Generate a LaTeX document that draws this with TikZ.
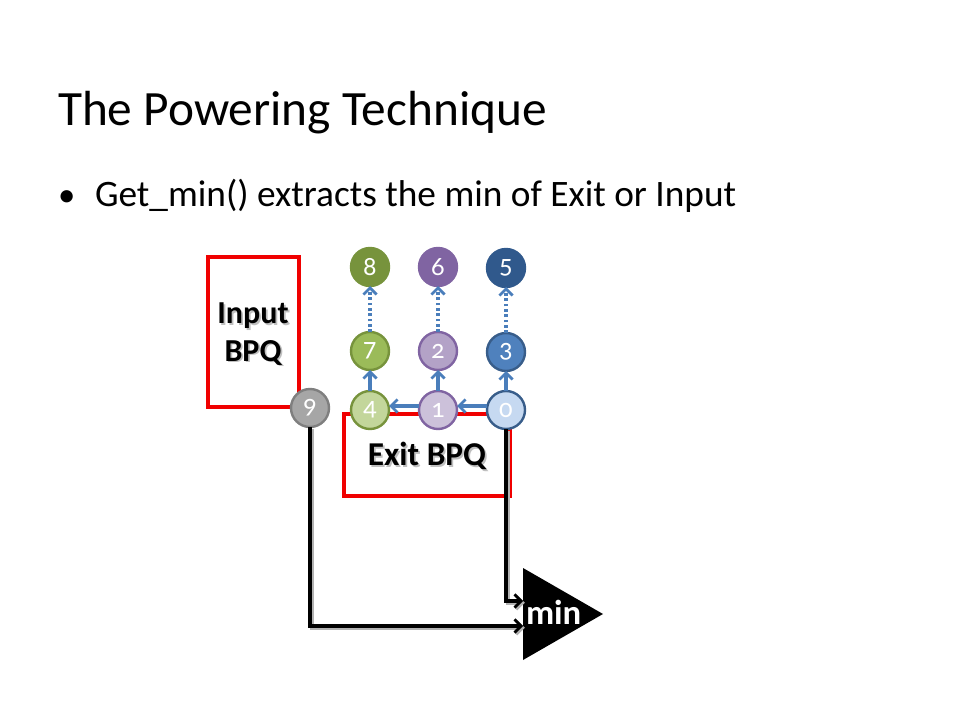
\documentclass[tikz,border=0pt]{standalone}
\usepackage{fontspec}
\setmainfont{Carlito}
\newfontfamily\digitfont[Numbers=OldStyle]{Carlito}
\usetikzlibrary{arrows.meta}
\definecolor{dgreen}{HTML}{77933C}
\definecolor{mgreen}{HTML}{9BBB59}
\definecolor{lgreen}{HTML}{C3D69B}
\definecolor{dpurple}{HTML}{8064A2}
\definecolor{mpurple}{HTML}{B3A2C7}
\definecolor{lpurple}{HTML}{CCC1DA}
\definecolor{dblue}{HTML}{30598C}
\definecolor{mblue}{HTML}{4F81BD}
\definecolor{lblue}{HTML}{C6D9F1}
\definecolor{bordblue}{HTML}{385D8A}
\definecolor{arrblue}{HTML}{4A7EBB}
\definecolor{gfill}{HTML}{A6A6A6}
\definecolor{gbord}{HTML}{7F7F7F}
\definecolor{boxred}{HTML}{F00000}
\newcommand{\shtext}[1]{\leavevmode\rlap{\kern1.3pt\raisebox{-1.3pt}{\textcolor{black!25}{#1}}}#1}
\tikzset{
  every node/.style={inner sep=0pt, outer sep=0pt},
  num/.style={circle, minimum size=28.5pt, line width=1.8pt, text=white, font=\digitfont\fontsize{20}{20}\selectfont},
  redbox/.style={draw=boxred, line width=2.6pt},
  solidarr/.style={draw=arrblue, line width=2.3pt, -{Straight Barb[length=5pt,width=10pt,line width=2pt]}},
  dotarr/.style={draw=arrblue, line width=2.3pt, dash pattern=on 2pt off 2pt, -{Straight Barb[length=5pt,width=10pt,line width=2pt]}},
  blackline/.style={draw=black, line width=3pt, line join=miter,
     preaction={draw=black!30, line width=3pt, transform canvas={shift={(1.4pt,-1.4pt)}}}},
  blackarr/.style={blackline, -{Straight Barb[length=5pt,width=10pt,line width=2pt]}},
  lbl/.style={font=\bfseries\fontsize{24}{28}\selectfont, align=center}
}
\begin{document}
\begin{tikzpicture}[x=0.75pt, y=-0.75pt]
\useasboundingbox (0,0) rectangle (960,720);
\fill[white] (0,0) rectangle (960,720);
% title and bullet
\node[anchor=base west, font=\fontsize{37}{42}\selectfont] (title) at (58,126) {The Powering Technique};
\node[anchor=base west, font=\fontsize{26}{28}\selectfont] (bullet) at (58,207) {\textbullet};
\node[anchor=base west, font=\fontsize{28}{30}\selectfont] (btext) at (95,207) {Get\_min() extracts the min of Exit or Input};
% red boxes
\draw[redbox] (208,257) rectangle (299,407);
\draw[redbox] (344,414) rectangle (510,496);
% labels
\node[lbl] (inlbl) at (253,335) {\shtext{Input}\\\shtext{BPQ}};
\node[lbl, font=\bfseries\fontsize{25}{28}\selectfont] (exlbl) at (427,457) {\shtext{Exit BPQ}};
% circles
\node[num, fill=dgreen, draw=dgreen] (n8) at (370,267) {8};
\node[num, fill=dpurple, draw=dpurple] (n6) at (438,267) {6};
\node[num, fill=dblue, draw=dblue] (n5) at (506,268) {5};
\node[num, fill=mgreen, draw=dgreen] (n7) at (370,351) {7};
\node[num, fill=mpurple, draw=dpurple] (n2) at (438,351) {2};
\node[num, fill=mblue, draw=bordblue] (n3) at (506,352) {3};
\node[num, fill=lgreen, draw=dgreen] (n4) at (370,410) {4};
\node[num, fill=lpurple, draw=dpurple] (n1) at (438,410) {1};
\node[num, fill=lblue, draw=bordblue] (n0) at (506,410) {0};
\node[num, fill=gfill, draw=gbord] (n9) at (310,408) {9};
% blue arrows
\draw[solidarr] (n4) -- (n7);
\draw[solidarr] (n1) -- (n2);
\draw[solidarr] (n0) -- (n3);
\draw[solidarr] ([yshift=3pt]n1.west) -- ([yshift=3pt]n4.east);
\draw[solidarr] ([yshift=3pt]n0.west) -- ([yshift=3pt]n1.east);
\draw[dotarr] (n7) -- (n8);
\draw[dotarr] (n2) -- (n6);
\draw[dotarr] (n3) -- (n5);
% min triangle
\fill[black] (523,568) -- (603,614) -- (523,660) -- cycle;
\node[font=\bfseries\fontsize{26}{28}\selectfont, text=white, anchor=base west] (minlbl) at (526,624) {min};
\coordinate (inA) at (523,601);
\coordinate (inB) at (523,626);
% black connectors
\draw[blackarr] (n0.south) |- (inA);
\draw[blackarr] (n9.south) |- (inB);
\end{tikzpicture}
\end{document}
